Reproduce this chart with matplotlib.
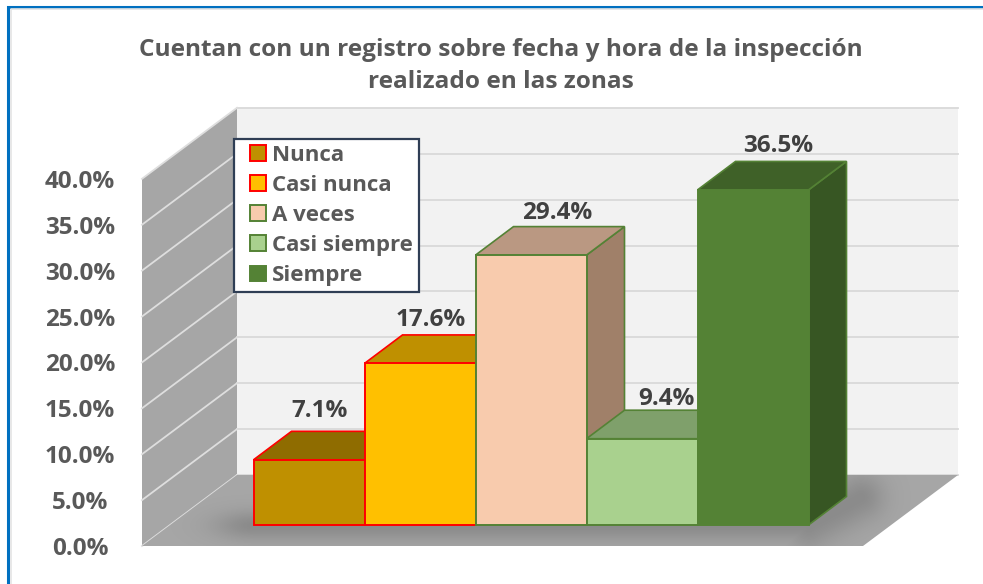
from matplotlib import pyplot as plt
from matplotlib.patches import Polygon, Patch, Rectangle
from matplotlib.legend_handler import HandlerPatch
import numpy as np

plt.rcParams['font.family'] = ['Open Sans', 'DejaVu Sans']

categories = ['Nunca', 'Casi nunca', 'A veces', 'Casi siempre', 'Siempre']
values = [7.1, 17.6, 29.4, 9.4, 36.5]
ticks = [0, 5, 10, 15, 20, 25, 30, 35, 40]
title = 'Cuentan con un registro sobre fecha y hora de la inspección\nrealizado en las zonas'

front_colors = ['#BF9000', '#FFC000', '#F8CBAD', '#A9D18E', '#548235']
top_colors = ['#8F6C00', '#BF9000', '#BA9882', '#7FA06B', '#3F6128']
side_colors = ['#806000', '#A67D00', '#A08069', '#6E8B5C', '#375623']
edge_colors = ['#FF0000', '#FF0000', '#548235', '#548235', '#548235']
label_dx = [11, 11, 26, 24, 25]
label_dy = [20, 15, 14, 11, 15]

GREY = '#595959'
k = 9.18           # pixels per 1%
wall_x0, wall_y0 = 142, 546
back_x0, back_y0 = 237, 475
back_x1 = 958
front_x1 = 863
bar_x0, bar_y0, bar_w = 253.5, 525, 111
dx, dy = 38, -28.5


def poly(ax, pts, fc, ec='none', lw=0, z=1):
    p = Polygon(pts, closed=True, facecolor=fc, edgecolor=ec, linewidth=lw,
                joinstyle='miter', zorder=z)
    ax.add_patch(p)
    return p


def key_square(legend, orig_handle, xdescent, ydescent, width, height, fontsize):
    # 16 px square pushed to the right of the handle box (values in points)
    side = 11.5
    return Rectangle((width - side - xdescent, (height - side) / 2 - ydescent), side, side)


fig = plt.figure(figsize=(9.83, 5.84), dpi=100)
ax = fig.add_axes([0, 0, 1, 1])
ax.set_xlim(0, 983)
ax.set_ylim(584, 0)
ax.axis('off')

# frame
ax.plot([8, 8, 983], [584, 6.5, 6.5], color='#0070C0', lw=2.2, zorder=1,
        solid_joinstyle='miter')
ax.plot([10.5, 10.5, 983], [584, 9, 9], color='#E4E4E4', lw=1.2, zorder=1)

# walls
top = max(ticks) * k
poly(ax, [(back_x0, back_y0), (back_x1, back_y0), (back_x1, back_y0 - top), (back_x0, back_y0 - top)],
     '#F2F2F2', z=1)
poly(ax, [(wall_x0, wall_y0), (back_x0, back_y0), (back_x0, back_y0 - top), (wall_x0, wall_y0 - top)],
     '#A6A6A6', z=1)
for t in ticks:
    y = t * k
    ax.plot([back_x0, back_x1], [back_y0 - y, back_y0 - y], color='#D9D9D9', lw=1.3, zorder=2)
    ax.plot([wall_x0, back_x0], [wall_y0 - y, back_y0 - y], color='#DEDEDE', lw=1.3, zorder=2)
    ax.text(80, wall_y0 - y + 3, '%.1f%%' % t, ha='center', va='center', color=GREY,
            fontsize=17.5, fontweight='bold', zorder=6)

# floor with soft shadow under the bars
floor = poly(ax, [(wall_x0, wall_y0), (back_x0, back_y0), (back_x1, back_y0), (front_x1, wall_y0)],
             '#A6A6A6', z=3)
xx, yy = np.meshgrid(np.arange(130, 970), np.arange(470, 550))
right_end = bar_x0 + bar_w * len(values)
sx = np.clip(bar_x0 - xx, 0, None) + np.clip(xx - right_end, 0, None)
f1 = np.exp(-(sx / 40.0) ** 2 - ((yy - bar_y0) / 15.0) ** 2)
t = np.clip(((xx - right_end) * 52 - (yy - bar_y0) * 28) / (52.0 ** 2 + 28.0 ** 2), 0, 1)
f2 = np.exp(-(np.hypot(xx - (right_end + 52 * t), yy - (bar_y0 - 28 * t)) / 24.0) ** 2)
rgba = np.zeros(xx.shape + (4,))
rgba[..., :3] = 0.3
rgba[..., 3] = 0.3 * np.maximum(f1, f2)
im = ax.imshow(rgba, extent=(130, 970, 550, 470), zorder=3.5, aspect='auto', interpolation='bilinear')
im.set_clip_path(floor)
ax.set_xlim(0, 983)
ax.set_ylim(584, 0)

# bars
for i, v in enumerate(values):
    x = bar_x0 + i * bar_w
    y = bar_y0 - v * k
    ec = edge_colors[i]
    poly(ax, [(x + bar_w, bar_y0), (x + bar_w + dx, bar_y0 + dy), (x + bar_w + dx, y + dy), (x + bar_w, y)],
         side_colors[i], ec, 1.2, 4 + i * 0.1)
    poly(ax, [(x, y), (x + dx, y + dy), (x + bar_w + dx, y + dy), (x + bar_w, y)],
         top_colors[i], ec, 1.2, 4 + i * 0.1)
    ax.add_patch(Rectangle((x, y), bar_w, v * k, facecolor=front_colors[i], edgecolor=ec,
                           linewidth=1.4, zorder=4.05 + i * 0.1))
    ax.text(x + bar_w / 2 + label_dx[i], y + dy - label_dy[i], '%.1f%%' % v, ha='center', va='center',
            color='#404040', fontsize=17.5, fontweight='bold', zorder=6)

ax.text(501, 66, title, ha='center', va='center', color=GREY, fontsize=17.6,
        fontweight='bold', linespacing=1.5, zorder=6)

handles = []
for i in range(len(categories)):
    handles.append(Patch(facecolor=front_colors[i], edgecolor=edge_colors[i], linewidth=1.4))
leg = ax.legend(handles, categories, loc='upper left', bbox_to_anchor=(234, 139),
                bbox_transform=ax.transData, fancybox=False, framealpha=1,
                edgecolor='#2F3E55', labelcolor=GREY, handlelength=1.2, handleheight=0.8,
                handletextpad=0.27, labelspacing=0.4, borderpad=0.25, borderaxespad=0,
                handler_map={Patch: HandlerPatch(patch_func=key_square)},
                prop={'family': 'Open Sans', 'weight': 'bold', 'size': 16})
leg.get_frame().set_linewidth(1.6)
leg.set_zorder(7)

plt.savefig('out.png', dpi=100)
